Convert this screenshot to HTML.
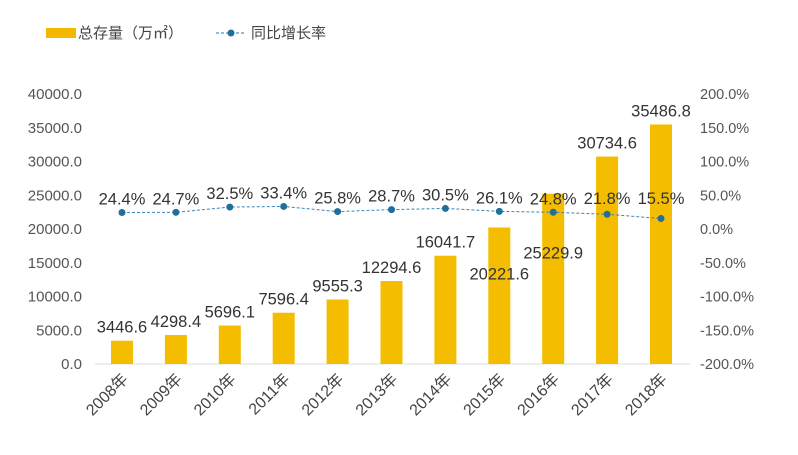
<!DOCTYPE html>
<html><head><meta charset="utf-8"><style>
body{margin:0;background:#fff;}
svg{font-family:"Liberation Sans","Noto Sans CJK SC",sans-serif;}
</style></head><body>
<svg id="c" width="798" height="450">
<g>
<rect x="46" y="28" width="30" height="10" fill="#F5B800"/>
<text x="78" y="38" font-size="15" fill="#444">总存量（万㎡）</text>
<line x1="216" y1="33" x2="246" y2="33" stroke="#2a7ab0" stroke-dasharray="3,2"/>
<circle cx="231" cy="33" r="3.5" fill="#1f6e9c"/>
<text x="251" y="38" font-size="15" fill="#444">同比增长率</text>
</g>
<g id="plot"></g>
</svg>
<script>
const years=["2008年","2009年","2010年","2011年","2012年","2013年","2014年","2015年","2016年","2017年","2018年"];
const stock=[3446.6,4298.4,5696.1,7596.4,9555.3,12294.6,16041.7,20221.6,25229.9,30734.6,35486.8];
const growth=[24.4,24.7,32.5,33.4,25.8,28.7,30.5,26.1,24.8,21.8,15.5];
const leftTicks=[0,5000,10000,15000,20000,25000,30000,35000,40000];
const rightTicks=[-200,-150,-100,-50,0,50,100,150,200];
const NS="http://www.w3.org/2000/svg";
const g=document.getElementById('plot');
const y0=364,yTop=94;
const yL=v=>y0-(v/40000)*(y0-yTop);
const yR=v=>y0-((v+200)/400)*(y0-yTop);
const xC=i=>122+i*53.9;
function mk(t,a,txt){const e=document.createElementNS(NS,t);for(const k in a)e.setAttribute(k,a[k]);if(txt!==undefined)e.textContent=txt;g.appendChild(e);return e;}
let e=mk('line',{x1:95,y1:y0,x2:690,y2:y0,stroke:'#ddd'});


leftTicks.forEach(v=>{const t=mk('text',{x:82,y:yL(v)+5,'font-size':15,fill:'#555','text-anchor':'end'},v.toFixed(1));

});
rightTicks.forEach(v=>{const t=mk('text',{x:700,y:yR(v)+5,'font-size':14.5,fill:'#555'},v.toFixed(1)+'%');

});
stock.forEach((v,i)=>{
const r=mk('rect',{x:xC(i)-11,y:yL(v),width:22,height:y0-yL(v),fill:'#F5BD00'});


let ly=yL(v)-8;
if(i===7)ly=yL(v)+52; if(i===8)ly=yL(v)+65;
const t=mk('text',{x:xC(i),y:ly,'font-size':16.5,fill:'#333','text-anchor':'middle'},v.toFixed(1));


const xl=mk('text',{x:0,y:0,'font-size':16,fill:'#444','text-anchor':'end',transform:`translate(${xC(i)+7},${y0+16}) rotate(-45)`},years[i]);


});
const pts=growth.map((v,i)=>xC(i)+','+yR(v)).join(' ');
const pl=mk('polyline',{points:pts,fill:'none',stroke:'#3a86b8','stroke-width':1,'stroke-dasharray':'3,2'});


growth.forEach((v,i)=>{
const c=mk('circle',{cx:xC(i),cy:yR(v),r:3.5,fill:'#1f6e9c'});


const t=mk('text',{x:xC(i),y:yR(v)-8-(i>=9?(growth[i]<22?(25-growth[i])*0.68:0):0),'font-size':16.5,fill:'#333','text-anchor':'middle'},v.toFixed(1)+'%');


});
</script>
</body></html>
